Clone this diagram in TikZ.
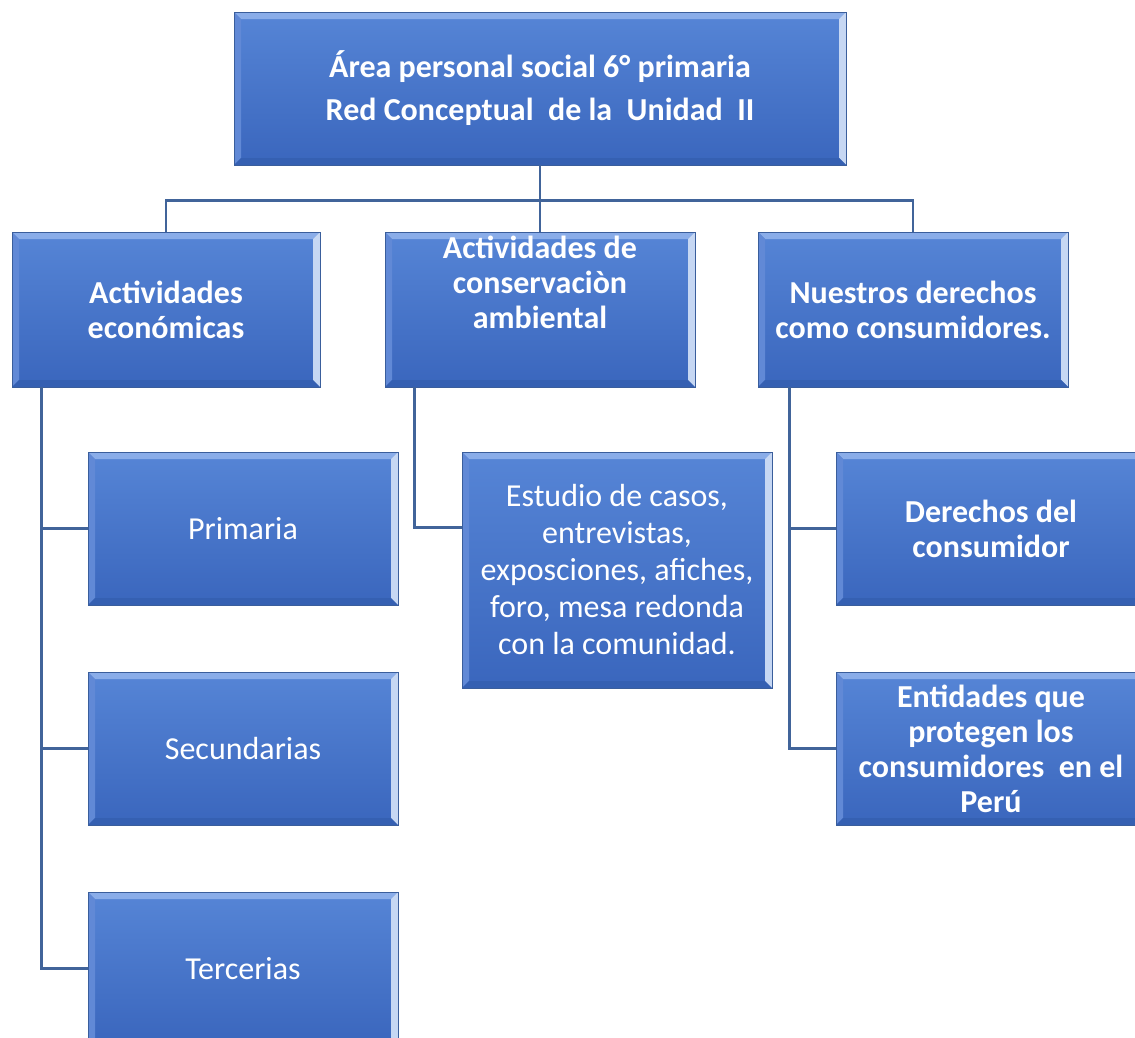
\documentclass[tikz,border=0pt]{standalone}
\usepackage{fontspec}
\setmainfont{Carlito}
\usetikzlibrary{calc}
\definecolor{boxtop}{HTML}{5685D6}
\definecolor{boxbot}{HTML}{3A66BD}
\definecolor{bevtop}{HTML}{8AADE9}
\definecolor{bevleft}{HTML}{6189D6}
\definecolor{bevright}{HTML}{C6D7F3}
\definecolor{bevbot}{HTML}{3560B2}
\definecolor{boxline}{HTML}{3A5E9C}
\definecolor{connc}{HTML}{41649A}
\newcommand{\bv}{7pt}
\tikzset{
  bevelbox/.style={rectangle, draw=boxline, line width=0.8pt,
    top color=boxtop, bottom color=boxbot, text=white, align=center,
    inner sep=10pt,
    path picture={
      \coordinate (pnw) at (path picture bounding box.north west);
      \coordinate (pne) at (path picture bounding box.north east);
      \coordinate (psw) at (path picture bounding box.south west);
      \coordinate (pse) at (path picture bounding box.south east);
      \fill[bevtop] (pnw) -- (pne) -- ([shift={(-\bv,-\bv)}]pne) -- ([shift={(\bv,-\bv)}]pnw) -- cycle;
      \fill[bevleft] (pnw) -- ([shift={(\bv,-\bv)}]pnw) -- ([shift={(\bv,\bv)}]psw) -- (psw) -- cycle;
      \fill[bevright] (pne) -- (pse) -- ([shift={(-\bv,\bv)}]pse) -- ([shift={(-\bv,-\bv)}]pne) -- cycle;
      \fill[bevbot] (psw) -- (pse) -- ([shift={(-\bv,\bv)}]pse) -- ([shift={(\bv,\bv)}]psw) -- cycle;
    }},
  wide/.style={minimum width=310pt, minimum height=153pt},
  boldtxt/.style={font=\bfseries\fontsize{32}{35}\selectfont},
  plaintxt/.style={font=\fontsize{32}{37}\selectfont},
  conn/.style={draw=connc, line width=2.5pt}
}
\begin{document}
\begin{tikzpicture}[x=1pt,y=-1pt]
\useasboundingbox (0,0) rectangle (1135,1037);
\clip (0,0) rectangle (1135,1037);

\node[bevelbox, minimum width=612pt, minimum height=153pt, font=\bfseries\fontsize{32}{43}\selectfont] (top) at (540,88.5)
  {Área personal social 6° primaria\\Red Conceptual\ \ de la\ \ Unidad\ \ II};

\node[bevelbox, minimum width=308pt, minimum height=155pt, boldtxt] (A) at (166,309.5) {Actividades\\económicas};
\node[bevelbox, minimum width=310pt, minimum height=155pt,
  label={[text=white, align=center, boldtxt, yshift=27pt]center:Actividades de\\conservaciòn\\ambiental}] (B) at (540,309.5) {};
\node[bevelbox, minimum width=310pt, minimum height=155pt, boldtxt] (C) at (913,309.5) {Nuestros derechos\\como consumidores.};

\node[bevelbox, wide, plaintxt] (p1) at (243,528.5) {Primaria};
\node[bevelbox, wide, plaintxt] (p2) at (243,748.5) {Secundarias};
\node[bevelbox, wide, plaintxt] (p3) at (243,968.5) {Tercerias};

\node[bevelbox, minimum width=310pt, minimum height=236pt, plaintxt] (est) at (617,570)
  {Estudio de casos,\\entrevistas,\\exposciones, afiches,\\foro, mesa redonda\\con la comunidad.};

\node[bevelbox, wide, boldtxt] (d1) at (991,528.5) {Derechos del\\consumidor};
\node[bevelbox, wide, boldtxt] (d2) at (991,748.5) {Entidades que\\protegen los\\consumidores\ \ en el\\Perú};

% connectors
\draw[conn] (top.south) -- ++(0,35) coordinate (hub);
\draw[conn] (A.north) |- (hub) -| (C.north);
\draw[conn] (hub) -- (B.north);

\draw[conn] ([xshift=30pt]A.south west) |- (p1.west);
\draw[conn] ([xshift=30pt]A.south west) |- (p2.west);
\draw[conn] ([xshift=30pt]A.south west) |- (p3.west);

\draw[conn] ([xshift=30pt]B.south west) |- ($(est.north west)+(0,76)$);

\draw[conn] ([xshift=32pt]C.south west) |- (d1.west);
\draw[conn] ([xshift=32pt]C.south west) |- (d2.west);
\end{tikzpicture}
\end{document}
